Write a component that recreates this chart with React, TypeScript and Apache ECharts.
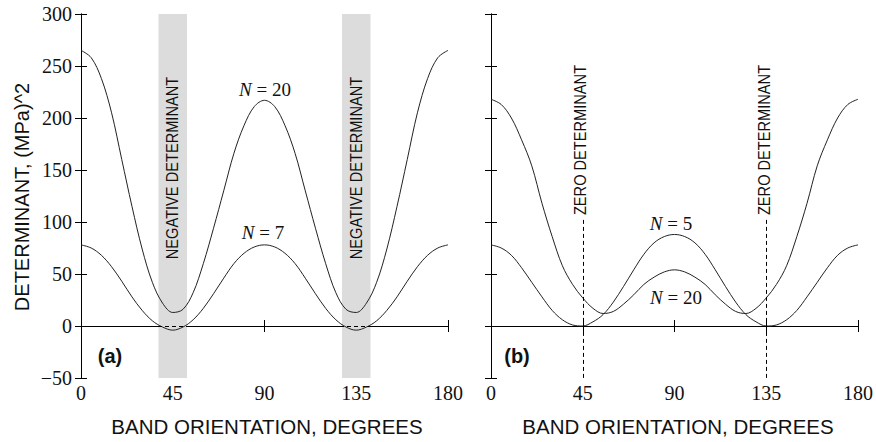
import React, { useEffect, useRef } from "react";
import * as echarts from "echarts";

// Band orientation (degrees)
const angles = [0, 5, 10, 15, 20, 25, 30, 35, 40, 45, 50, 55, 60, 65, 70, 75, 80, 85, 90,
  95, 100, 105, 110, 115, 120, 125, 130, 135, 140, 145, 150, 155, 160, 165, 170, 175, 180];

// Panel (a)
const aN20 = [265, 258, 238, 205, 160, 115, 74, 42, 22, 13, 16, 32, 60, 94, 130, 166, 193, 211, 217,
  211, 193, 166, 130, 94, 60, 32, 16, 13, 22, 42, 74, 115, 160, 205, 238, 258, 265];
const aN7 = [78, 75, 68, 57, 43, 28, 15, 5, -1, -4, -1, 6, 17, 31, 46, 60, 70, 76, 78,
  76, 70, 60, 46, 31, 17, 6, -1, -4, -1, 5, 15, 28, 43, 57, 68, 75, 78];

// Panel (b)
const bN20 = [218, 213, 200, 179, 154, 118, 86, 58, 40, 27, 17, 12, 14, 21, 30, 40, 47, 52, 54,
  52, 47, 40, 30, 21, 14, 12, 17, 27, 40, 58, 86, 118, 154, 179, 200, 213, 218];
const bN5 = [78, 75, 68, 56, 42, 28, 15, 6, 1, 0, 4, 11, 23, 38, 54, 69, 80, 86, 88,
  86, 80, 69, 54, 38, 23, 11, 4, 0, 1, 6, 15, 28, 42, 56, 68, 75, 78];

const negativeBands = [[38, 52], [128, 142]];
const zeroLines = [45, 135];
const zeroLineTop = 102;

const X_MIN = 0, X_MAX = 180, X_INT = 45;
const Y_MIN = -50, Y_MAX = 300, Y_INT = 50;

const SERIF = "'Liberation Serif', 'DejaVu Serif', serif";
const SANS = "'Liberation Sans', Arial, sans-serif";

const pairs = (ys: number[]) => angles.map((a, i) => [a, ys[i]]);

export default function App() {
  const ref = useRef<HTMLDivElement>(null);
  useEffect(() => {
    if (!ref.current) return;
    const chart = echarts.init(ref.current, undefined, { renderer: "svg" });
    const grids = [
      { left: 81, top: 14, width: 367, height: 364 },
      { left: 491, top: 14, width: 367, height: 364 },
    ];
    const axisLine = { show: true, lineStyle: { color: "#000", width: 1 } };
    const axisTick = { show: true, inside: true, length: 6, lineStyle: { color: "#000", width: 1 } };
    const fmt = (v: number) => String(v).replace("-", "\u2212");
    const xAxes: any[] = [];
    const yAxes: any[] = [];
    [0, 1].forEach((g) => {
      xAxes.push({
        type: "value", gridIndex: g, position: "bottom", min: X_MIN, max: X_MAX, interval: X_INT,
        axisLine, axisTick, splitLine: { show: false },
        axisLabel: { show: true, margin: 5, fontFamily: SERIF, fontSize: 20, color: "#111", showMinLabel: true, showMaxLabel: true },
      });
      xAxes.push({
        type: "value", gridIndex: g, position: "top", min: X_MIN, max: X_MAX, interval: X_INT,
        axisLine, axisTick, splitLine: { show: false }, axisLabel: { show: false },
      });
      yAxes.push({
        type: "value", gridIndex: g, position: "left", min: Y_MIN, max: Y_MAX, interval: Y_INT,
        axisLine, axisTick, splitLine: { show: false },
        axisLabel: { show: g === 0, margin: 9, fontFamily: SERIF, fontSize: 20, color: "#111", formatter: fmt, showMinLabel: true, showMaxLabel: true },
      });
      yAxes.push({
        type: "value", gridIndex: g, position: "right", min: Y_MIN, max: Y_MAX, interval: Y_INT,
        axisLine, axisTick, splitLine: { show: false }, axisLabel: { show: false },
      });
    });
    const lineStyle = { color: "#222", width: 1 };
    const zeroMark = {
      silent: true, symbol: "none", label: { show: false },
      lineStyle: { type: [4, 3], color: "#000", width: 1 },
      data: [{ yAxis: 0 }],
    };
    const series: any[] = [
      {
        name: "(a) N = 20", type: "line", xAxisIndex: 0, yAxisIndex: 0, data: pairs(aN20),
        showSymbol: false, smooth: 0.35, lineStyle, z: 3,
        markArea: {
          silent: true, itemStyle: { color: "#dcdcdc" },
          data: negativeBands.map(([a, b]) => [{ xAxis: a }, { xAxis: b }]),
        },
        markLine: zeroMark,
      },
      {
        name: "(a) N = 7", type: "line", xAxisIndex: 0, yAxisIndex: 0, data: pairs(aN7),
        showSymbol: false, smooth: 0.35, lineStyle, z: 3,
      },
      {
        name: "(b) N = 20", type: "line", xAxisIndex: 2, yAxisIndex: 2, data: pairs(bN20),
        showSymbol: false, smooth: 0.35, lineStyle, z: 3,
        markLine: zeroMark,
      },
      {
        name: "(b) N = 5", type: "line", xAxisIndex: 2, yAxisIndex: 2, data: pairs(bN5),
        showSymbol: false, smooth: 0.35, lineStyle, z: 3,
        markLine: {
          silent: true, symbol: "none", label: { show: false },
          lineStyle: { type: [4, 3], color: "#000", width: 1 },
          data: zeroLines.map((x) => [{ coord: [x, zeroLineTop] }, { coord: [x, Y_MIN] }]),
        },
      },
    ];
    const nText = (x: number, y: number, val: string) => ({
      type: "text", x, y, z: 100,
      style: {
        text: "{i|N} = " + val, align: "center", verticalAlign: "middle",
        fontFamily: SERIF, fontSize: 19, fill: "#111",
        rich: { i: { fontStyle: "italic", fontFamily: SERIF, fontSize: 19, fill: "#111" } },
      },
    });
    const vText = (x: number, y: number, text: string) => ({
      type: "text", x, y, z: 100, rotation: Math.PI / 2, scaleX: 0.86,
      style: { text, align: "center", verticalAlign: "middle", fontFamily: SANS, fontSize: 17, fill: "#111" },
    });
    const graphic: any[] = [
      nText(265, 89, "20"),
      nText(263, 232, "7"),
      nText(671, 223, "5"),
      nText(676, 297, "20"),
      vText(172, 168, "NEGATIVE DETERMINANT"),
      vText(356, 168, "NEGATIVE DETERMINANT"),
      vText(580, 140, "ZERO DETERMINANT"),
      vText(764, 140, "ZERO DETERMINANT"),
      {
        type: "text", x: 110, y: 356, z: 100,
        style: { text: "(a)", align: "center", verticalAlign: "middle", fontFamily: SANS, fontWeight: "bold", fontSize: 20, fill: "#111" },
      },
      {
        type: "text", x: 517, y: 356, z: 100,
        style: { text: "(b)", align: "center", verticalAlign: "middle", fontFamily: SANS, fontWeight: "bold", fontSize: 20, fill: "#111" },
      },
      {
        type: "text", x: 267, y: 426, z: 100,
        style: { text: "BAND ORIENTATION, DEGREES", align: "center", verticalAlign: "middle", fontFamily: SANS, fontSize: 20.5, fill: "#111" },
      },
      {
        type: "text", x: 678, y: 426, z: 100,
        style: { text: "BAND ORIENTATION, DEGREES", align: "center", verticalAlign: "middle", fontFamily: SANS, fontSize: 20.5, fill: "#111" },
      },
      {
        type: "text", x: 22, y: 197, z: 100, rotation: Math.PI / 2,
        style: { text: "DETERMINANT, (MPa)^2", align: "center", verticalAlign: "middle", fontFamily: SANS, fontSize: 20, fill: "#111" },
      },
    ];
    chart.setOption({
      animation: false,
      backgroundColor: "#fff",
      grid: grids,
      xAxis: xAxes,
      yAxis: yAxes,
      series,
      graphic,
    });
    return () => chart.dispose();
  }, []);
  return (
    <div
      ref={ref}
      style={{ position: "fixed", left: 0, top: 0, width: 876, height: 442, background: "#fff" }}
    />
  );
}
